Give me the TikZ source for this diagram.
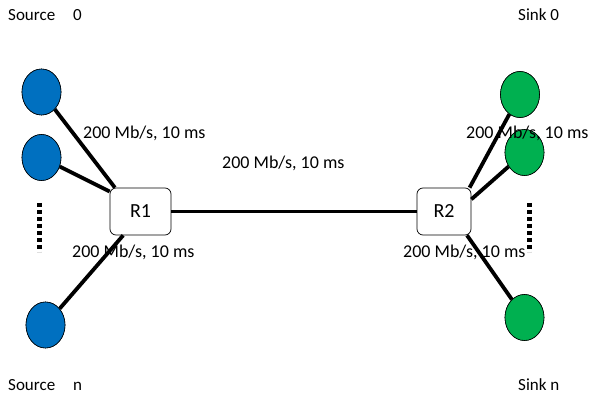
\documentclass[tikz,border=0pt]{standalone}
\usepackage{fontspec}
\setmainfont{Carlito}
\usetikzlibrary{shapes.geometric}
\definecolor{srcblue}{HTML}{0070C0}
\definecolor{sinkgreen}{HTML}{00B050}
\tikzset{
  host/.style={ellipse, draw=black, line width=0.6pt, minimum width=39pt, minimum height=46pt, inner sep=0pt},
  srchost/.style={host, fill=srcblue},
  sinkhost/.style={host, fill=sinkgreen},
  router/.style={draw=black, line width=0.7pt, rounded corners=6pt, inner sep=0pt, font=\fontsize{20}{22}\selectfont},
  link/.style={line width=3.8pt},
  linklabel/.style={anchor=west, inner sep=0pt, font=\fontsize{18}{20}\selectfont},
  endlabel/.style={anchor=west, inner sep=0pt, font=\fontsize{17}{20}\selectfont},
  more/.style={line width=5pt, dash pattern=on 4pt off 3pt}
}
\begin{document}
\begin{tikzpicture}[x=1pt, y=-1pt]
\useasboundingbox (0,0) rectangle (590,398);

% routers
\node[router, minimum width=61pt, minimum height=47pt] (R1) at (140.5,211.5) {R1};
\node[router, minimum width=54pt, minimum height=47pt] (R2) at (444,211.5) {R2};

% hosts
\node[srchost] (s0) at (41.5,92) {};
\node[srchost] (s1) at (41.5,157.5) {};
\node[srchost] (sn) at (45.5,325) {};
\node[sinkhost] (k0) at (520,94.5) {};
\node[sinkhost] (k1) at (524.5,152.5) {};
\node[sinkhost] (kn) at (524.5,317.5) {};

% links
\draw[link] (R1.east) -- (R2.west);
\draw[link] (s0) -- (R1.137);
\draw[link] (s1) -- (R1.147);
\draw[link] (sn) -- (R1.234);
\draw[link] (k0) -- (R2.43);
\draw[link] (k1) -- (R2.24);
\draw[link] (kn) -- (R2.-46);

% redraw hosts above the link ends
\foreach \h/\c in {s0/srcblue,s1/srcblue,sn/srcblue,k0/sinkgreen,k1/sinkgreen,kn/sinkgreen}
  \fill[\c, draw=black, line width=0.6pt] (\h.center) ellipse [x radius=19.5pt, y radius=23pt];

% elided hosts
\coordinate (ldtop) at (39.5,203);
\coordinate (ldbot) at (39.5,252);
\coordinate (rdtop) at (529.5,203);
\coordinate (rdbot) at (529.5,252);
\draw[more] (ldtop) -- (ldbot);
\draw[more] (rdtop) -- (rdbot);

% link labels
\node[linklabel] (lab1) at (83,133) {200 Mb/s, 10 ms};
\node[linklabel] (lab2) at (222,163) {200 Mb/s, 10 ms};
\node[linklabel] (lab3) at (72,252) {200 Mb/s, 10 ms};
\node[linklabel] (lab4) at (466,133) {200 Mb/s, 10 ms};
\node[linklabel] (lab5) at (403,252) {200 Mb/s, 10 ms};

% end labels
\node[endlabel] (t0) at (8,15) {Source\hspace*{18pt}0};
\node[endlabel] (tn) at (8,385) {Source\hspace*{18pt}n};
\node[endlabel] (u0) at (518,15) {Sink 0};
\node[endlabel] (un) at (518,385) {Sink n};
\end{tikzpicture}
\end{document}
